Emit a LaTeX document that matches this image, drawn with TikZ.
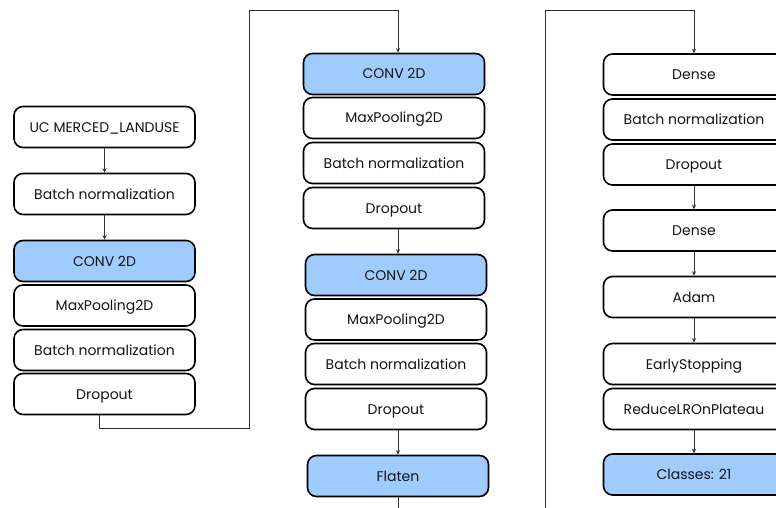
\documentclass[tikz,border=0pt]{standalone}
\usepackage{fontspec}
\setmainfont{Poppins}
\usetikzlibrary{arrows.meta}
\definecolor{boxblue}{RGB}{160,204,253}
\definecolor{linegray}{RGB}{50,50,50}
\definecolor{txt}{RGB}{20,20,20}
\tikzset{
  layer/.style={draw=black, line width=1.6pt, rounded corners=9pt, fill=white, text=txt,
    minimum width=181pt, minimum height=41pt, inner sep=0pt, text height=10pt, text depth=0pt,
    font=\fontsize{14}{16}\selectfont},
  hilite/.style={layer, fill=boxblue},
  link/.style={draw=linegray, line width=0.9pt},
  flow/.style={link, -{Stealth[length=4.5pt,width=4pt]}}
}
\begin{document}
\begin{tikzpicture}[x=1pt,y=-1pt]
\useasboundingbox (0,0) rectangle (776,508);
\clip (0,0) rectangle (776,508);
% column 1
\node[layer]  (in)  at (104.5,127)   {UC MERCED\_LANDUSE};
\node[layer]  (bn1) at (104.5,194)   {Batch normalization};
\node[hilite] (c1)  at (104.5,261)   {CONV 2D};
\node[layer]  (mp1) at (104.5,305.5) {MaxPooling2D};
\node[layer]  (bn2) at (104.5,350)   {Batch normalization};
\node[layer]  (do1) at (104.5,394)   {Dropout};
% column 2
\node[hilite] (c2)  at (394,74)    {CONV 2D};
\node[layer]  (mp2) at (394,118)   {MaxPooling2D};
\node[layer]  (bn3) at (394,163)   {Batch normalization};
\node[layer]  (do2) at (394,208)   {Dropout};
\node[hilite] (c3)  at (396,275)   {CONV 2D};
\node[layer]  (mp3) at (396,319.5) {MaxPooling2D};
\node[layer]  (bn4) at (396,364)   {Batch normalization};
\node[layer]  (do3) at (396,409)   {Dropout};
\node[hilite] (fl)  at (398,476)   {Flaten};
% column 3
\node[layer]  (d1)  at (694,74.5)  {Dense};
\node[layer]  (bn5) at (694,119.5) {Batch normalization};
\node[layer]  (do4) at (694,164.5) {Dropout};
\node[layer]  (d2)  at (694,230.5) {Dense};
\node[layer]  (ad)  at (694,297)   {Adam};
\node[layer]  (es)  at (694,364)   {EarlyStopping};
\node[layer]  (rl)  at (694,409)   {ReduceLROnPlateau};
\node[hilite] (cls) at (694,474.5) {Classes: 21};
% connectors
\draw[flow] (in) -- (bn1);
\draw[flow] (bn1) -- (c1);
\draw[flow] ([xshift=-5.5pt]do1.south) |- (249,428) |- (398,10) -- ([xshift=4pt]c2.north);
\draw[flow] ([xshift=4pt]do2.south) -- ([xshift=2pt]c3.north);
\draw[flow] ([xshift=2pt]do3.south) -- (fl.north);
\draw[flow] (fl.south) |- (545,520) |- (694,10) -- (d1.north);
\draw[flow] (do4) -- (d2);
\draw[flow] (d2) -- (ad);
\draw[flow] (ad) -- (es);
\draw[flow] (rl) -- (cls);
\end{tikzpicture}
\end{document}
